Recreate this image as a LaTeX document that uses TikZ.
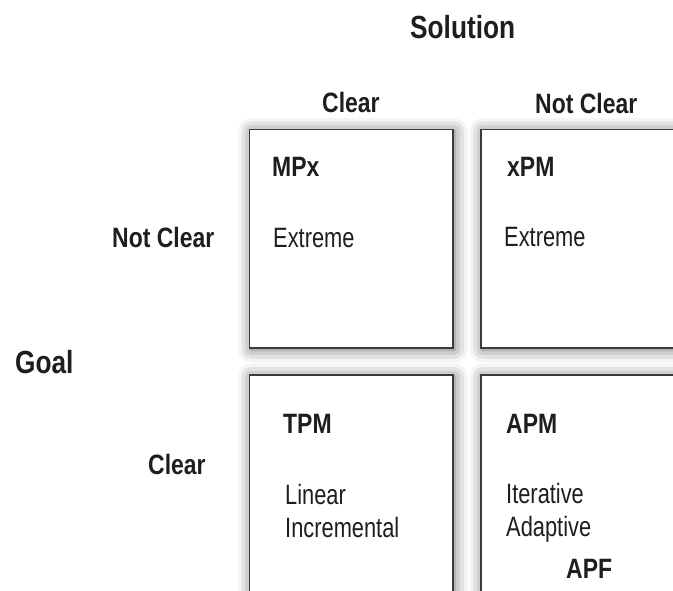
\documentclass[tikz,border=0pt]{standalone}
\usepackage{fontspec}
\setmainfont{Liberation Sans}[FakeStretch=0.82]
\newfontfamily\narrowfont{Liberation Sans}[FakeStretch=0.78]
\usepackage{tikz}
\usetikzlibrary{shadows.blur}

\definecolor{ink}{HTML}{1E1E1E}
\definecolor{frame}{HTML}{3A3A3A}

\tikzset{
  cell/.style={draw=frame, line width=1.4pt, fill=white,
    blur shadow={shadow xshift=1.5pt, shadow yshift=-1.5pt,
      shadow blur radius=13pt, shadow opacity=60}},
  bigcap/.style={anchor=base west, inner sep=0pt, text=ink,
    font=\fontsize{32}{38}\selectfont\bfseries},
  axiscap/.style={anchor=base west, inner sep=0pt, text=ink,
    font=\fontsize{28}{33}\selectfont\bfseries},
  celltext/.style={anchor=base west, inner sep=0pt, text=ink, align=left,
    font=\narrowfont\fontsize{28}{33}\selectfont},
}

\begin{document}
\begin{tikzpicture}[x=1pt, y=-1pt]
  %%%%% START %%%%%
  \useasboundingbox (0, 0) rectangle (673, 591);
  \clip (0, 0) rectangle (673, 591);

  % the four quadrants
  \draw[cell] (249.5, 129.5) rectangle (453, 348);
  \draw[cell] (481, 129.5) rectangle (700, 348);
  \draw[cell] (249.5, 375) rectangle (453, 620);
  \draw[cell] (481, 375) rectangle (700, 620);

  % axis headings
  \node[bigcap] (solution) at (410, 39) {Solution};
  \node[axiscap] (solclear) at (322, 113) {Clear};
  \node[axiscap] (solnotclear) at (535, 113.5) {Not Clear};

  \node[bigcap] (goal) at (15, 373) {Goal};
  \node[axiscap] (goalnotclear) at (112, 248) {Not Clear};
  \node[axiscap] (goalclear) at (148, 474) {Clear};

  % top row
  \node[axiscap] (mpx) at (272, 177) {MPx};
  \node[celltext] (mpxtext) at (273, 248) {Extreme};
  \node[axiscap] (xpm) at (507, 177) {xPM};
  \node[celltext] (xpmtext) at (504, 247) {Extreme};

  % bottom row (base of a two-line node sits on its last line)
  \node[axiscap] (tpm) at (283, 433) {TPM};
  \node[celltext] (tpmtext) at (285, 537) {Linear\\Incremental};
  \node[axiscap] (apm) at (506, 433) {APM};
  \node[celltext] (apmtext) at (506, 536) {Iterative\\Adaptive};
  \node[axiscap] (apf) at (566, 578) {APF};
  %%%%% END %%%%%
\end{tikzpicture}
\end{document}
